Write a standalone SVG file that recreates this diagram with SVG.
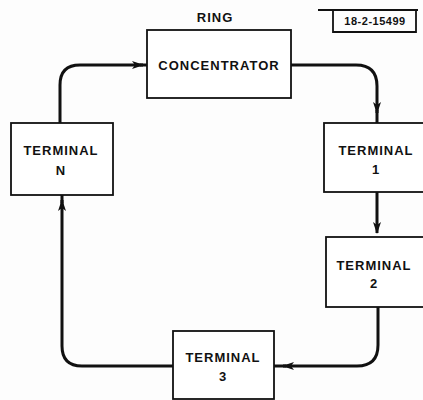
<svg xmlns="http://www.w3.org/2000/svg" width="423" height="400" viewBox="0 0 423 400">
<defs>
<marker id="arr" viewBox="0 0 12 8" refX="11" refY="4" markerWidth="12" markerHeight="8" markerUnits="userSpaceOnUse" orient="auto">
<path d="M0,0 L12,4 L0,8 L3,4 Z" fill="#111"/>
</marker>
<style>
.box{fill:#fff;stroke:#111;stroke-width:1.8}
.lbl{font-family:"Liberation Sans",Arial,sans-serif;font-weight:bold;font-size:13px;letter-spacing:1px;fill:#111;text-anchor:middle}
.small{font-size:11px;letter-spacing:0.5px}
.con{fill:none;stroke:#111;stroke-width:3}
</style>
</defs>
<rect width="423" height="400" fill="#fdfdfd"/>
<g id="labels">
<text class="lbl" x="215" y="22">RING</text>
<path d="M318,10 H418 M333,11 V32 H416 V11" fill="none" stroke="#111" stroke-width="1.8"/>
<text class="lbl small" x="375" y="25">18-2-15499</text>
</g>
<g id="connectors">
<path class="con" d="M291,65 H356 Q377,65 377,86 V113" marker-end="url(#arr)"/>
<path class="con" d="M377,110 V123"/>
<path class="con" d="M377,192 V233" marker-end="url(#arr)"/>
<path class="con" d="M378,307 V345 Q378,366 357,366 H283" marker-end="url(#arr)"/>
<path class="con" d="M286,366 H274"/>
<path class="con" d="M173,366 H82 Q62,366 62,346 V200" marker-end="url(#arr)"/>
<path class="con" d="M62,203 V195"/>
<path class="con" d="M60,123 V85 Q60,65 80,65 H143" marker-end="url(#arr)"/>
<path class="con" d="M140,65 H147"/>
</g>
<g id="concentrator">
<rect class="box" x="147" y="30" width="144" height="68"/>
<text class="lbl" x="219" y="70">CONCENTRATOR</text>
</g>
<g id="terminal-n">
<rect class="box" x="11" y="123" width="102" height="72"/>
<text class="lbl" x="61" y="155">TERMINAL</text>
<text class="lbl" x="61" y="175">N</text>
</g>
<g id="terminal-1">
<rect class="box" x="324" y="123" width="110" height="69"/>
<text class="lbl" x="376" y="155">TERMINAL</text>
<text class="lbl" x="376" y="174">1</text>
</g>
<g id="terminal-2">
<rect class="box" x="326" y="237" width="110" height="70"/>
<text class="lbl" x="374" y="270">TERMINAL</text>
<text class="lbl" x="374" y="288">2</text>
</g>
<g id="terminal-3">
<rect class="box" x="173" y="331" width="101" height="68"/>
<text class="lbl" x="223" y="362">TERMINAL</text>
<text class="lbl" x="223" y="381">3</text>
</g>
</svg>
